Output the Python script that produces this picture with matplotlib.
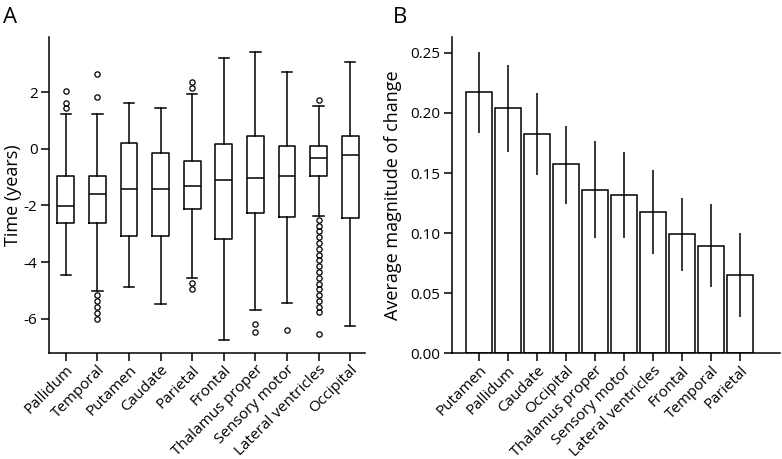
import matplotlib
matplotlib.use("Agg")
import matplotlib.pyplot as plt

plt.rcParams['font.family'] = ['Open Sans', 'DejaVu Sans']
plt.rcParams['axes.unicode_minus'] = False

# panel A: box plot summaries (years)
regions_a = ['Pallidum', 'Temporal', 'Putamen', 'Caudate', 'Parietal', 'Frontal',
             'Thalamus proper', 'Sensory motor', 'Lateral ventricles', 'Occipital']
whislo = [-4.46, -5.03, -4.87, -5.47, -4.55, -6.74, -5.69, -5.43, -2.38, -6.26]
q1 = [-2.63, -2.63, -3.07, -3.07, -2.12, -3.19, -2.27, -2.42, -0.96, -2.46]
med = [-2.02, -1.60, -1.42, -1.42, -1.31, -1.11, -1.05, -0.96, -0.34, -0.21]
q3 = [-0.96, -0.96, 0.21, -0.16, -0.45, 0.15, 0.44, 0.08, 0.11, 0.44]
whishi = [1.22, 1.23, 1.62, 1.43, 1.94, 3.19, 3.40, 2.69, 1.49, 3.05]
fliers = [
    [1.43, 1.63, 2.05],
    [1.81, 2.65, -5.17, -5.39, -5.59, -5.80, -6.01],
    [],
    [],
    [2.16, 2.35, -4.73, -4.94],
    [],
    [-6.20, -6.46],
    [-6.41],
    [1.72, -2.52, -2.72, -2.92, -3.13, -3.33, -3.54, -3.74, -3.94, -4.15,
     -4.35, -4.56, -4.76, -4.96, -5.17, -5.37, -5.57, -5.78, -6.54],
    [],
]

# panel B: bar means with asymmetric error bars
regions_b = ['Putamen', 'Pallidum', 'Caudate', 'Occipital', 'Thalamus proper',
             'Sensory motor', 'Lateral ventricles', 'Frontal', 'Temporal', 'Parietal']
magnitude = [0.2175, 0.2044, 0.1822, 0.1575, 0.1358, 0.1317, 0.1180, 0.0989, 0.0897, 0.0650]
err_low = [0.1830, 0.1678, 0.1480, 0.1240, 0.0958, 0.0958, 0.0828, 0.0689, 0.0553, 0.0303]
err_high = [0.2506, 0.2400, 0.2164, 0.1890, 0.1767, 0.1678, 0.1525, 0.1294, 0.1244, 0.1000]

lw = 1.1
fig = plt.figure(figsize=(7.82, 4.59), dpi=100)
axA = fig.add_axes([0.0623, 0.2316, 0.4045, 0.687])
axB = fig.add_axes([0.5776, 0.2303, 0.4198, 0.6885])

stats = []
for i in range(len(regions_a)):
    stats.append(dict(whislo=whislo[i], q1=q1[i], med=med[i], q3=q3[i],
                      whishi=whishi[i], fliers=fliers[i]))
axA.bxp(stats, positions=range(1, 11), widths=0.53, capwidths=0.33,
        boxprops=dict(color='black', lw=lw),
        medianprops=dict(color='black', lw=lw),
        whiskerprops=dict(color='black', lw=lw),
        capprops=dict(color='black', lw=lw),
        flierprops=dict(marker='o', markerfacecolor='none', markeredgecolor='black',
                        markersize=3.8, markeredgewidth=0.9))
axA.set_xlim(0.46, 10.47)
axA.set_ylim(-7.2, 3.93)
axA.set_yticks([-6, -4, -2, 0, 2])
axA.set_xticks(range(1, 11))
axA.set_xticklabels(regions_a, rotation=45, ha='right', rotation_mode='anchor')
axA.set_ylabel('Time (years)', fontsize=13, labelpad=1)

x = range(len(regions_b))
lower = [m - l for m, l in zip(magnitude, err_low)]
upper = [h - m for m, h in zip(magnitude, err_high)]
axB.bar(x, magnitude, width=0.9, color='white', edgecolor='black', lw=lw)
axB.errorbar(x, magnitude, yerr=[lower, upper], fmt='none', ecolor='black',
             elinewidth=lw, capsize=0)
axB.set_xlim(-0.94, 10.38)
axB.set_ylim(0, 0.263)
axB.set_yticks([0, 0.05, 0.10, 0.15, 0.20, 0.25])
axB.set_yticklabels(['0.00', '0.05', '0.10', '0.15', '0.20', '0.25'])
axB.set_xticks(list(x))
axB.set_xticklabels(regions_b, rotation=45, ha='right', rotation_mode='anchor')
axB.set_ylabel('Average magnitude of change', fontsize=13, labelpad=6)

for ax in (axA, axB):
    ax.spines['top'].set_visible(False)
    ax.spines['right'].set_visible(False)
    ax.spines['left'].set_linewidth(lw)
    ax.spines['bottom'].set_linewidth(lw)
    ax.tick_params(axis='both', direction='out', length=6, width=lw, labelsize=11,
                   pad=2)
    ax.tick_params(axis='x', pad=1)

fig.text(0.004, 0.985, 'A', fontsize=16, va='top')
fig.text(0.503, 0.985, 'B', fontsize=16, va='top')

fig.savefig('out.png', dpi=100)
